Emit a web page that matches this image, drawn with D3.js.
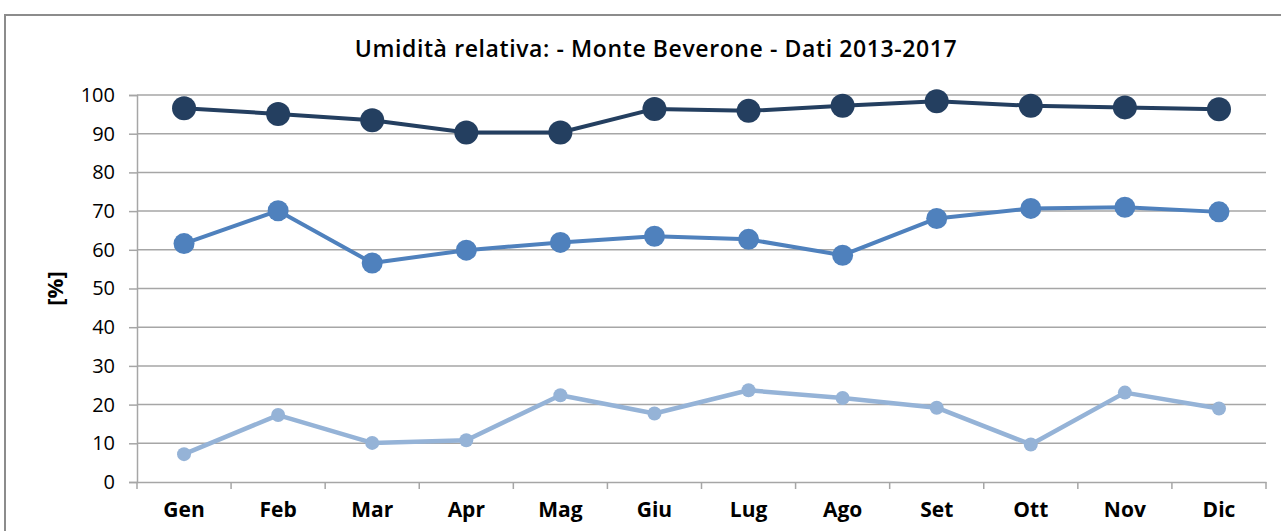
<!DOCTYPE html>
<html>
<head>
<meta charset="utf-8">
<script src="https://cdn.jsdelivr.net/npm/d3@7"></script>
<style>
  html, body { margin: 0; padding: 0; background: #fff; overflow: hidden; }
  svg { display: block; font-family: "Open Sans", sans-serif; }
</style>
</head>
<body>
<div id="chart"></div>
<script>
const months = ['Gen', 'Feb', 'Mar', 'Apr', 'Mag', 'Giu', 'Lug', 'Ago', 'Set', 'Ott', 'Nov', 'Dic'];
const umiditaMax = [96.6, 95.1, 93.5, 90.3, 90.3, 96.4, 95.9, 97.2, 98.4, 97.2, 96.8, 96.3];
const umiditaMedia = [61.6, 70.1, 56.6, 59.9, 61.9, 63.5, 62.7, 58.6, 68.1, 70.7, 71.0, 69.8];
const umiditaMin = [7.2, 17.3, 10.1, 10.8, 22.4, 17.7, 23.7, 21.7, 19.2, 9.7, 23.1, 19.0];
const yTicks = [0, 10, 20, 30, 40, 50, 60, 70, 80, 90, 100];

const width = 1281;
const height = 531;
const margin = { top: 95, right: 15, bottom: 49, left: 137 };

const svg = d3.select('#chart').append('svg')
  .attr('width', width)
  .attr('height', height);

// outer frame
svg.append('rect')
  .attr('x', 5)
  .attr('y', 15)
  .attr('width', width + 20)
  .attr('height', height + 20)
  .attr('fill', 'none')
  .attr('stroke', '#8c8c8c')
  .attr('stroke-width', 2);

const plotW = width - margin.left - margin.right;
const plotH = height - margin.top - margin.bottom;

const x = d3.scaleBand()
  .domain(months)
  .range([0, plotW]);

const y = d3.scaleLinear()
  .domain([0, 100])
  .range([plotH, 0]);

const g = svg.append('g')
  .attr('transform', 'translate(' + margin.left + ',' + margin.top + ')');

// gridlines
g.append('g')
  .selectAll('line')
  .data(yTicks.filter(d => d > 0))
  .enter().append('line')
  .attr('x1', 0)
  .attr('x2', plotW)
  .attr('y1', d => y(d))
  .attr('y2', d => y(d))
  .attr('stroke', '#a6a6a6')
  .attr('stroke-width', 1.5);

// y axis
const yAxis = g.append('g')
  .call(d3.axisLeft(y).tickValues(yTicks).tickSize(8).tickPadding(14));
yAxis.select('.domain').attr('stroke', '#a6a6a6').attr('stroke-width', 1.5);
yAxis.selectAll('.tick line').attr('stroke', '#a6a6a6').attr('stroke-width', 1.5);
yAxis.selectAll('text')
  .attr('font-size', 20)
  .attr('font-family', '"Open Sans", sans-serif')
  .attr('fill', '#000');

// x axis: ticks between categories
const xAxis = g.append('g')
  .attr('transform', 'translate(0,' + plotH + ')')
  .call(d3.axisBottom(x).tickSize(0).tickPadding(20));
xAxis.select('.domain').attr('stroke', '#a6a6a6').attr('stroke-width', 1.5);
xAxis.selectAll('text')
  .attr('font-size', 21)
  .attr('font-weight', 'bold')
  .attr('font-family', '"Open Sans", sans-serif')
  .attr('fill', '#000');
xAxis.selectAll('.sep')
  .data(months.concat(['end']))
  .enter().append('line')
  .attr('class', 'sep')
  .attr('x1', (d, i) => i * x.bandwidth())
  .attr('x2', (d, i) => i * x.bandwidth())
  .attr('y1', 0)
  .attr('y2', 7)
  .attr('stroke', '#a6a6a6')
  .attr('stroke-width', 1.5);

const series = [
  { name: 'min', values: umiditaMin, color: '#95b3d7', r: 7, w: 4.5 },
  { name: 'media', values: umiditaMedia, color: '#4f81bd', r: 10.5, w: 4 },
  { name: 'max', values: umiditaMax, color: '#243f60', r: 12, w: 4 }
];

const line = d3.line()
  .x((d, i) => x(months[i]) + x.bandwidth() / 2)
  .y(d => y(d));

series.forEach(s => {
  g.append('path')
    .datum(s.values)
    .attr('d', line)
    .attr('fill', 'none')
    .attr('stroke', s.color)
    .attr('stroke-width', s.w)
    .attr('stroke-linejoin', 'round');

  g.selectAll('.dot-' + s.name)
    .data(s.values)
    .enter().append('circle')
    .attr('class', 'dot-' + s.name)
    .attr('cx', (d, i) => x(months[i]) + x.bandwidth() / 2)
    .attr('cy', d => y(d))
    .attr('r', s.r)
    .attr('fill', s.color);
});

// title
svg.append('text')
  .attr('x', 656)
  .attr('y', 57)
  .attr('text-anchor', 'middle')
  .attr('font-size', 23)
  .attr('font-weight', 600)
  .attr('letter-spacing', 0.6)
  .attr('fill', '#000')
  .text('Umidità relativa: - Monte Beverone - Dati 2013-2017');

// y axis title
svg.append('text')
  .attr('transform', 'translate(63,' + (margin.top + plotH / 2) + ') rotate(-90)')
  .attr('text-anchor', 'middle')
  .attr('font-size', 22)
  .attr('font-weight', 'bold')
  .attr('fill', '#000')
  .text('[%]');
</script>
</body>
</html>
